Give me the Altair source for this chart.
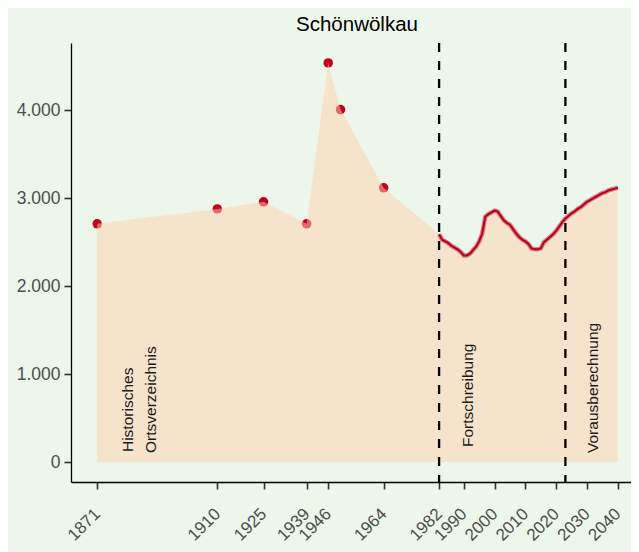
import altair as alt
import pandas as pd

# --- data ---
point_years = [1871, 1910, 1925, 1939, 1946, 1950, 1964]
point_values = [2710, 2880, 2960, 2710, 4540, 4010, 3120]

line_years = list(range(1982, 2041))
line_values = [
    2590, 2530, 2510, 2490, 2460, 2440, 2420, 2390, 2350, 2350,   # 1982-1991
    2370, 2410, 2450, 2510, 2600, 2790, 2820, 2840, 2860, 2850,   # 1992-2001
    2800, 2750, 2720, 2700, 2650, 2600, 2560, 2530, 2510, 2480,   # 2002-2011
    2430, 2420, 2420, 2430, 2500, 2530, 2560, 2590, 2630, 2680,   # 2012-2021
    2730, 2770, 2800, 2830, 2850, 2880, 2900, 2930, 2960, 2980,   # 2022-2031
    3000, 3020, 3040, 3060, 3070, 3090, 3100, 3110, 3120,         # 2032-2040
]

x_ticks = [1871, 1910, 1925, 1939, 1946, 1964, 1982, 1990, 2000, 2010, 2020, 2030, 2040]
y_ticks = [0, 1000, 2000, 3000, 4000]
break_years = [1982, 2023]

note_texts = ["Historisches", "Ortsverzeichnis", "Fortschreibung", "Vorausberechnung"]
note_years = [1881.1, 1888.4, 1991.3, 2032.1]
note_values = [114, 103, 171, 103]

title_text = "Schönwölkau"

# --- tables ---
points_df = pd.DataFrame({"year": point_years, "value": point_values})
line_df = pd.DataFrame({"year": line_years, "value": line_values})
area_df = pd.concat([points_df, line_df], ignore_index=True)
rules_df = pd.DataFrame({"year": break_years})
notes_df = pd.DataFrame({"text": note_texts, "year": note_years, "value": note_values})

FONT = "Liberation Sans"
BG = "#EDF6EB"
RED = "#C0001E"

xscale = alt.Scale(domain=[1862.5, 2044.3], nice=False, zero=False)
yscale = alt.Scale(domain=[-227, 4767], nice=False, zero=False)

x_axis = alt.Axis(
    values=x_ticks, labelAngle=-45, labelAlign="right", labelBaseline="middle",
    labelPadding=22, title=None, grid=False, labelFontSize=17, labelOverlap=False,
    format="d",
)
y_axis = alt.Axis(
    values=y_ticks, title=None, grid=False, labelFontSize=17.5,
    labelExpr="replace(format(datum.value, ',d'), ',', '.')",
)

X = alt.X("year:Q", scale=xscale, axis=x_axis)
Y = alt.Y("value:Q", scale=yscale, axis=y_axis)

points = alt.Chart(points_df).mark_circle(size=90, color=RED, opacity=1).encode(x=X, y=Y)

area = alt.Chart(area_df).mark_area(color="#FFD0AD", opacity=0.5).encode(
    x=X, y=Y, y2=alt.datum(0)
)

line_halo = alt.Chart(line_df).mark_line(color="#D8606E", strokeWidth=4.5, opacity=0.8).encode(x=X, y=Y)
line_core = alt.Chart(line_df).mark_line(color="#B0001C", strokeWidth=2).encode(x=X, y=Y)

rules = alt.Chart(rules_df).mark_rule(
    color="black", strokeWidth=2.3, strokeDash=[9, 9]
).encode(x=X)

notes = alt.Chart(notes_df).mark_text(
    angle=270, align="left", baseline="middle", fontSize=15.5, font=FONT, color="#1A1A1A"
).encode(x=X, y=Y, text="text:N")

chart = (
    alt.layer(points, area, line_halo, line_core, rules, notes)
    .properties(
        width=560,
        height=439,
        padding={"left": 63, "top": 35, "right": 0, "bottom": 70},
        autosize=alt.AutoSizeParams(type="none"),
        background=BG,
        title=alt.Title(
            title_text, fontSize=20.5, font=FONT, fontWeight="normal",
            color="black", anchor="middle", offset=6, dx=6,
        ),
    )
    .configure_view(stroke=None)
    .configure_axis(
        labelFont=FONT, labelColor="#4D4D4D", domainColor="black", domainWidth=1.3,
        tickColor="#333333", tickWidth=1.6, tickSize=7, labelPadding=4,
    )
)

chart.save("out.html", embed_options={"renderer": "svg", "actions": False})
